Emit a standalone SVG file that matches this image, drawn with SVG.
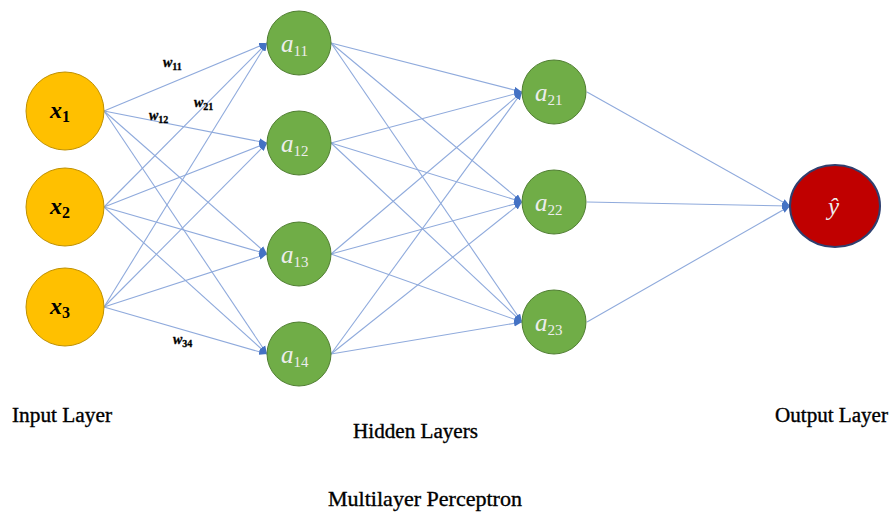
<svg xmlns="http://www.w3.org/2000/svg" width="892" height="519" viewBox="0 0 892 519">
  <style>
    .edge { stroke: #8FAADC; stroke-width: 1.1; fill: none; marker-end: url(#arrow); }
    .inp { fill: #FFC000; stroke: #BF9000; stroke-width: 1; }
    .hid { fill: #70AD47; stroke: #507E32; stroke-width: 1; }
    .out { fill: #C00000; stroke: #2F3F6F; stroke-width: 2; }
    .xl { font-family: "Liberation Serif", "DejaVu Serif", serif; font-weight: bold; fill: #000; }
    .al { font-family: "Liberation Serif", "DejaVu Serif", serif; fill: #EDEDED; }
    .wl { font-family: "Liberation Serif", "DejaVu Serif", serif; font-weight: bold; fill: #000; stroke: #000; stroke-width: 0.3; }
    .cap { font-family: "Liberation Serif", "DejaVu Serif", serif; fill: #000; stroke: #000; stroke-width: 0.35; }
  </style>
  <defs>
    <marker id="arrow" viewBox="0 0 10 8" refX="10" refY="4" markerWidth="8" markerHeight="7" markerUnits="userSpaceOnUse" orient="auto">
      <path d="M0,0 L10,4 L0,8 z" fill="#4472C4"/>
    </marker>
  </defs>

  <!-- connections between layers -->
  <g id="connectors">
    <!-- input -> hidden 1 -->
    <line class="edge" x1="104" y1="111" x2="267" y2="43"/>
    <line class="edge" x1="104" y1="111" x2="267" y2="143"/>
    <line class="edge" x1="104" y1="111" x2="267" y2="254"/>
    <line class="edge" x1="104" y1="111" x2="267" y2="354"/>
    <line class="edge" x1="104" y1="207" x2="267" y2="43"/>
    <line class="edge" x1="104" y1="207" x2="267" y2="143"/>
    <line class="edge" x1="104" y1="207" x2="267" y2="254"/>
    <line class="edge" x1="104" y1="207" x2="267" y2="354"/>
    <line class="edge" x1="104" y1="307" x2="267" y2="43"/>
    <line class="edge" x1="104" y1="307" x2="267" y2="143"/>
    <line class="edge" x1="104" y1="307" x2="267" y2="254"/>
    <line class="edge" x1="104" y1="307" x2="267" y2="354"/>
    <!-- hidden 1 -> hidden 2 -->
    <line class="edge" x1="331" y1="43" x2="522" y2="92"/>
    <line class="edge" x1="331" y1="43" x2="522" y2="202"/>
    <line class="edge" x1="331" y1="43" x2="522" y2="322"/>
    <line class="edge" x1="331" y1="143" x2="522" y2="92"/>
    <line class="edge" x1="331" y1="143" x2="522" y2="202"/>
    <line class="edge" x1="331" y1="143" x2="522" y2="322"/>
    <line class="edge" x1="331" y1="254" x2="522" y2="92"/>
    <line class="edge" x1="331" y1="254" x2="522" y2="202"/>
    <line class="edge" x1="331" y1="254" x2="522" y2="322"/>
    <line class="edge" x1="331" y1="354" x2="522" y2="92"/>
    <line class="edge" x1="331" y1="354" x2="522" y2="202"/>
    <line class="edge" x1="331" y1="354" x2="522" y2="322"/>
    <!-- hidden 2 -> output -->
    <line class="edge" x1="587" y1="92" x2="790" y2="206"/>
    <line class="edge" x1="587" y1="202" x2="790" y2="206"/>
    <line class="edge" x1="587" y1="322" x2="790" y2="206"/>
  </g>

  <!-- weight labels -->
  <g id="weights">
    <text class="wl" x="163" y="67" font-size="14"><tspan font-style="italic">w</tspan><tspan font-size="10" dy="3">11</tspan></text>
    <text class="wl" x="194" y="107" font-size="14"><tspan font-style="italic">w</tspan><tspan font-size="10" dy="3">21</tspan></text>
    <text class="wl" x="149" y="120" font-size="14"><tspan font-style="italic">w</tspan><tspan font-size="10" dy="3">12</tspan></text>
    <text class="wl" x="173" y="344" font-size="14"><tspan font-style="italic">w</tspan><tspan font-size="10" dy="3">34</tspan></text>
  </g>

  <!-- input layer -->
  <g id="x1">
    <circle class="inp" cx="65" cy="111" r="39"/>
    <text class="xl" x="50" y="118" font-size="24" font-style="italic">x<tspan font-size="16" dy="4" font-style="normal">1</tspan></text>
  </g>
  <g id="x2">
    <circle class="inp" cx="65" cy="207" r="39"/>
    <text class="xl" x="50" y="214" font-size="24" font-style="italic">x<tspan font-size="16" dy="4" font-style="normal">2</tspan></text>
  </g>
  <g id="x3">
    <circle class="inp" cx="65" cy="307" r="39"/>
    <text class="xl" x="50" y="314" font-size="24" font-style="italic">x<tspan font-size="16" dy="4" font-style="normal">3</tspan></text>
  </g>

  <!-- hidden layer 1 -->
  <g id="a11">
    <circle class="hid" cx="299" cy="43" r="32"/>
    <text class="al" x="281" y="52" font-size="25" font-style="italic">a<tspan font-size="15" dy="4" font-style="normal">11</tspan></text>
  </g>
  <g id="a12">
    <circle class="hid" cx="299" cy="143" r="32"/>
    <text class="al" x="281" y="152" font-size="25" font-style="italic">a<tspan font-size="15" dy="4" font-style="normal">12</tspan></text>
  </g>
  <g id="a13">
    <circle class="hid" cx="299" cy="254" r="32"/>
    <text class="al" x="281" y="263" font-size="25" font-style="italic">a<tspan font-size="15" dy="4" font-style="normal">13</tspan></text>
  </g>
  <g id="a14">
    <circle class="hid" cx="299" cy="354" r="32"/>
    <text class="al" x="281" y="363" font-size="25" font-style="italic">a<tspan font-size="15" dy="4" font-style="normal">14</tspan></text>
  </g>

  <!-- hidden layer 2 -->
  <g id="a21">
    <circle class="hid" cx="554" cy="92" r="32"/>
    <text class="al" x="535" y="101" font-size="25" font-style="italic">a<tspan font-size="15" dy="4" font-style="normal">21</tspan></text>
  </g>
  <g id="a22">
    <circle class="hid" cx="554" cy="202" r="32"/>
    <text class="al" x="535" y="211" font-size="25" font-style="italic">a<tspan font-size="15" dy="4" font-style="normal">22</tspan></text>
  </g>
  <g id="a23">
    <circle class="hid" cx="554" cy="322" r="32"/>
    <text class="al" x="535" y="331" font-size="25" font-style="italic">a<tspan font-size="15" dy="4" font-style="normal">23</tspan></text>
  </g>

  <!-- output layer -->
  <g id="yhat">
    <ellipse class="out" cx="835" cy="206" rx="45" ry="41"/>
    <text class="al" x="828" y="215" font-size="25" font-style="italic">ŷ</text>
  </g>

  <!-- captions -->
  <g id="captions">
    <text class="cap" x="12" y="422" font-size="20" textLength="100" lengthAdjust="spacingAndGlyphs">Input Layer</text>
    <text class="cap" x="353" y="438" font-size="20" textLength="125" lengthAdjust="spacingAndGlyphs">Hidden Layers</text>
    <text class="cap" x="775" y="422" font-size="20" textLength="113" lengthAdjust="spacingAndGlyphs">Output Layer</text>
    <text class="cap" x="328" y="506" font-size="22" stroke-width="0.6" textLength="194" lengthAdjust="spacingAndGlyphs">Multilayer Perceptron</text>
  </g>
</svg>
